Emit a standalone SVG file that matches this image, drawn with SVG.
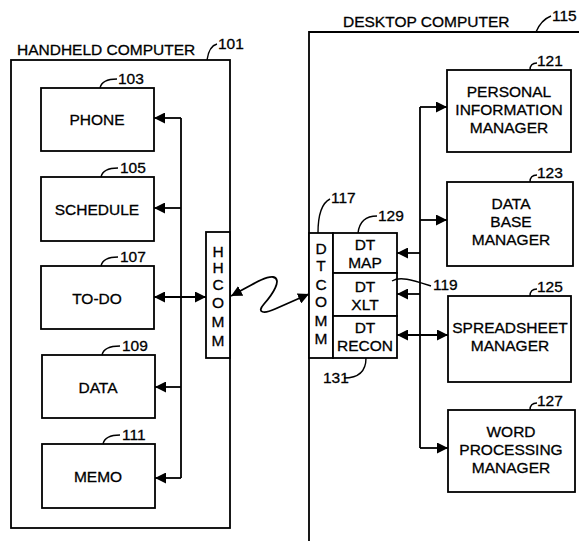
<svg xmlns="http://www.w3.org/2000/svg" width="579" height="541" viewBox="0 0 579 541">
<style>
text{font-family:"Liberation Sans",Arial,sans-serif;font-size:15.5px;fill:#000;stroke:#000;stroke-width:0.3}
.m{text-anchor:middle}
.box{fill:#fff;stroke:#000;stroke-width:1.8}
.cont{fill:none;stroke:#000;stroke-width:1.8}
.ln{fill:none;stroke:#000;stroke-width:1.8}
.ar{fill:none;stroke:#000;stroke-width:1.8;marker-end:url(#ah)}
.da{fill:none;stroke:#000;stroke-width:1.8;marker-start:url(#ah);marker-end:url(#ah)}
.hk{fill:none;stroke:#000;stroke-width:1.4}
</style>
<defs>
<marker id="ah" markerUnits="userSpaceOnUse" markerWidth="12" markerHeight="11" refX="11" refY="5.5" orient="auto-start-reverse">
<path d="M0,0 L11,5.5 L0,11 z" fill="#000"/>
</marker>
</defs>
<rect width="579" height="541" fill="#fff"/>

<g id="handheld">
<rect class="cont" x="11" y="60" width="219" height="468"/>
<text x="17" y="55">HANDHELD COMPUTER</text>
<path class="hk" d="M207,60 Q209,46 217,44"/>
<text x="218" y="49">101</text>
</g>

<g id="desktop">
<path class="cont" d="M579,32 L309,32 L309,541"/>
<text x="343" y="27">DESKTOP COMPUTER</text>
<path class="hk" d="M536,32 Q541,20 551,16"/>
<text x="552" y="21">115</text>
</g>

<g id="phone">
<rect class="box" x="41" y="88" width="113" height="63"/>
<text class="m" x="97" y="125">PHONE</text>
<path class="hk" d="M100,88 Q102,79 117,79"/>
<text x="118" y="84">103</text>
</g>
<g id="schedule">
<rect class="box" x="41" y="177" width="113" height="64"/>
<text class="m" x="97" y="215">SCHEDULE</text>
<path class="hk" d="M101,177 Q103,168 118,168"/>
<text x="120" y="173">105</text>
</g>
<g id="todo">
<rect class="box" x="41" y="266" width="113" height="63"/>
<text class="m" x="97" y="304">TO-DO</text>
<path class="hk" d="M101,266 Q103,257 118,257"/>
<text x="120" y="262">107</text>
</g>
<g id="data">
<rect class="box" x="42" y="355" width="113" height="63"/>
<text class="m" x="98" y="393">DATA</text>
<path class="hk" d="M102,355 Q104,346 120,346"/>
<text x="122" y="351">109</text>
</g>
<g id="memo">
<rect class="box" x="42" y="444" width="113" height="64"/>
<text class="m" x="98" y="482">MEMO</text>
<path class="hk" d="M103,444 Q105,435 120,435"/>
<text x="122" y="440">111</text>
</g>

<g id="hhcomm">
<rect class="box" x="206" y="232" width="24" height="126"/>
<text class="m" x="218" y="257">H</text>
<text class="m" x="218" y="273">H</text>
<text class="m" x="218" y="290">C</text>
<text class="m" x="218" y="308">O</text>
<text class="m" x="218" y="327">M</text>
<text class="m" x="218" y="346">M</text>
</g>

<g id="dtcomm">
<rect class="box" x="309" y="233" width="24" height="125"/>
<text class="m" x="321" y="254">D</text>
<text class="m" x="321" y="271">T</text>
<text class="m" x="321" y="290">C</text>
<text class="m" x="321" y="307">O</text>
<text class="m" x="321" y="326">M</text>
<text class="m" x="321" y="344">M</text>
<path class="hk" d="M318,233 C318,214 322,203 330,199"/>
<text x="331" y="203">117</text>
</g>

<g id="dtmap">
<rect class="box" x="333" y="233" width="64" height="40"/>
<text class="m" x="365" y="250">DT</text>
<text class="m" x="365" y="268">MAP</text>
<path class="hk" d="M358,233 Q360,216 377,216"/>
<text x="378" y="221">129</text>
</g>
<g id="dtxlt">
<rect class="box" x="333" y="273" width="64" height="43"/>
<text class="m" x="365" y="292">DT</text>
<text class="m" x="365" y="310">XLT</text>
<path class="hk" d="M392,281 C400,276 412,280 431,286"/>
<text x="433" y="290">119</text>
</g>
<g id="dtrecon">
<rect class="box" x="333" y="316" width="64" height="42"/>
<text class="m" x="365" y="333">DT</text>
<text class="m" x="365" y="351">RECON</text>
<path class="hk" d="M344,378 C360,378 366,370 366,358"/>
<text x="323" y="383">131</text>
</g>

<g id="pim">
<rect class="box" x="447" y="70" width="124" height="82"/>
<text class="m" x="509" y="97">PERSONAL</text>
<text class="m" x="509" y="115">INFORMATION</text>
<text class="m" x="509" y="133">MANAGER</text>
<path class="hk" d="M530,70 Q530,63 537,63"/>
<text x="537" y="66">121</text>
</g>
<g id="dbm">
<rect class="box" x="447" y="182" width="126" height="84"/>
<text class="m" x="511" y="209">DATA</text>
<text class="m" x="511" y="227">BASE</text>
<text class="m" x="511" y="245">MANAGER</text>
<path class="hk" d="M530,182 Q530,175 537,175"/>
<text x="537" y="178">123</text>
</g>
<g id="ssm">
<rect class="box" x="448" y="296" width="123" height="86"/>
<text class="m" x="510" y="333">SPREADSHEET</text>
<text class="m" x="510" y="351">MANAGER</text>
<path class="hk" d="M530,296 Q530,289 537,289"/>
<text x="537" y="292">125</text>
</g>
<g id="wpm">
<rect class="box" x="448" y="410" width="127" height="82"/>
<text class="m" x="511" y="437">WORD</text>
<text class="m" x="511" y="455">PROCESSING</text>
<text class="m" x="511" y="473">MANAGER</text>
<path class="hk" d="M530,410 Q530,403 537,403"/>
<text x="537" y="406">127</text>
</g>

<g id="connectors">
<path class="ln" d="M181,118 L181,478"/>
<path class="ar" d="M181,118 L154,118"/>
<path class="ar" d="M181,208 L154,208"/>
<path class="da" d="M154,297 L206,297"/>
<path class="ar" d="M181,387 L155,387"/>
<path class="ar" d="M181,478 L155,478"/>
<path class="da" d="M231,296 C250,286 265,276 273,277 C283,279 272,295 264,304 C256,313 264,314 275,309 L309,294"/>
<path class="ln" d="M420,107 L420,448"/>
<path class="ar" d="M420,107 L447,107"/>
<path class="ar" d="M420,220 L447,220"/>
<path class="ar" d="M420,253 L397,253"/>
<path class="ar" d="M420,294 L397,294"/>
<path class="da" d="M397,335 L448,335"/>
<path class="ar" d="M420,448 L448,448"/>
</g>
</svg>
